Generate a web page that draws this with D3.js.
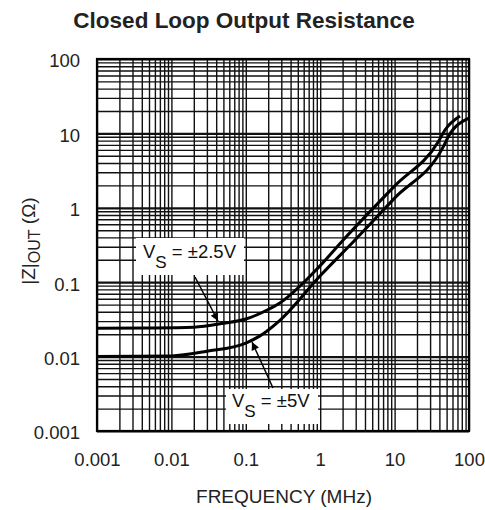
<!DOCTYPE html>
<html>
<head>
<meta charset="utf-8">
<script src="https://cdn.jsdelivr.net/npm/d3@7"></script>
<style>
  body { margin: 0; background: #fff; }
  svg { display: block; font-family: "Liberation Sans", Arial, Helvetica, sans-serif; }
  .tick text { fill: #222; }
</style>
</head>
<body>
<svg class="chart"></svg>
<script>
// frequency (MHz) and |Z|out (ohm)
var freq25 = [0.001, 0.005, 0.02, 0.05, 0.1, 0.2, 0.29, 1, 2.04, 10, 38.7, 47.6, 75.7];
var zout25 = [0.024, 0.0242, 0.0248, 0.028, 0.032, 0.043, 0.053, 0.167, 0.369, 1.96, 7.73, 11.1, 17.1];

var freq5 = [0.001, 0.01, 0.03, 0.1, 0.155, 0.29, 1, 2.94, 10, 45.2, 52.7, 97.9];
var zout5 = [0.01, 0.0102, 0.0118, 0.0152, 0.019, 0.031, 0.122, 0.369, 1.35, 6.63, 9.03, 15.96];

var xTicks = [0.001, 0.01, 0.1, 1, 10, 100];
var xTickLabels = ["0.001", "0.01", "0.1", "1", "10", "100"];
var yTicks = [0.001, 0.01, 0.1, 1, 10, 100];
var yTickLabels = ["0.001", "0.01", "0.1", "1", "10", "100"];

function show() {
    'use strict';

    var W = 485, H = 510;
    var margin = {top: 59, right: 16, bottom: 79, left: 97},
        width = W - margin.left - margin.right,
        height = H - margin.top - margin.bottom;

    var svg = d3.select(".chart").attr("width", W).attr("height", H);

    var x = d3.scaleLog().domain([0.001, 100]).range([margin.left, margin.left + width]);
    var y = d3.scaleLog().domain([0.001, 100]).range([margin.top + height, margin.top]);

    // grid values 1..9 per decade
    var grid = [];
    for (var d = -3; d <= 1; d++) {
        for (var k = 1; k <= 9; k++) grid.push(+(k * Math.pow(10, d)).toPrecision(3));
    }
    grid.push(100);

    var g = svg.append("g");

    // vertical grid
    g.append("g")
        .attr("transform", "translate(0," + (margin.top + height) + ")")
        .call(d3.axisBottom(x).tickValues(grid).tickSize(-height).tickFormat(""))
        .call(function (s) {
            s.select(".domain").remove();
            s.selectAll("line").attr("stroke", "#111").attr("stroke-width", 1.4);
        });

    // horizontal grid
    g.append("g")
        .attr("transform", "translate(" + margin.left + ",0)")
        .call(d3.axisLeft(y).tickValues(grid).tickSize(-width).tickFormat(""))
        .call(function (s) {
            s.select(".domain").remove();
            s.selectAll("line")
                .attr("stroke", "#111")
                .attr("stroke-width", function (v) { return yTicks.indexOf(v) >= 0 ? 2.2 : 1.4; });
        });

    // label boxes knock out the grid
    g.append("rect").attr("x", 136).attr("y", 238).attr("width", 108).attr("height", 37).attr("fill", "#fff");
    g.append("rect").attr("x", 226).attr("y", 389).attr("width", 92).attr("height", 35).attr("fill", "#fff");

    // frame
    g.append("rect")
        .attr("x", margin.left).attr("y", margin.top)
        .attr("width", width).attr("height", height)
        .attr("fill", "none").attr("stroke", "#000").attr("stroke-width", 2.2);

    // curves
    var line = d3.line()
        .x(function (p) { return x(p[0]); })
        .y(function (p) { return y(p[1]); })
        .curve(d3.curveMonotoneX);

    var s25 = freq25.map(function (f, i) { return [f, zout25[i]]; });
    var s5 = freq5.map(function (f, i) { return [f, zout5[i]]; });

    g.selectAll(".curve").data([s25, s5]).enter()
        .append("path")
        .attr("class", "curve")
        .attr("d", line)
        .attr("fill", "none")
        .attr("stroke", "#000")
        .attr("stroke-width", 3);

    // arrows
    svg.append("defs").append("marker")
        .attr("id", "arr")
        .attr("viewBox", "0 0 10 10")
        .attr("refX", 10).attr("refY", 5)
        .attr("markerWidth", 11).attr("markerHeight", 8)
        .attr("markerUnits", "userSpaceOnUse")
        .attr("orient", "auto")
        .append("path").attr("d", "M0,0L10,5L0,10Z").attr("fill", "#000");

    g.append("line").attr("x1", 195).attr("y1", 277).attr("x2", 218).attr("y2", 321)
        .attr("stroke", "#000").attr("stroke-width", 1.5).attr("marker-end", "url(#arr)");
    g.append("line").attr("x1", 273).attr("y1", 388).attr("x2", 252).attr("y2", 342)
        .attr("stroke", "#000").attr("stroke-width", 1.5).attr("marker-end", "url(#arr)");

    // annotation text
    function vsLabel(px, py, rest) {
        var t = g.append("text").attr("x", px).attr("y", py)
            .attr("font-size", 18.5).attr("fill", "#111");
        t.append("tspan").text("V");
        t.append("tspan").attr("dy", 10).attr("font-size", 17).text("S");
        t.append("tspan").attr("dy", -10).text(rest);
    }
    vsLabel(143, 258, " = \u00b12.5V");
    vsLabel(232, 407, " = \u00b15V");

    // axes labels
    var xa = g.append("g")
        .attr("transform", "translate(0," + (margin.top + height) + ")")
        .call(d3.axisBottom(x).tickValues(xTicks).tickSize(0).tickPadding(22)
            .tickFormat(function (v, i) { return xTickLabels[i]; }));
    xa.select(".domain").remove();
    xa.selectAll("text").attr("font-size", 18.5).attr("font-family", null);

    var ya = g.append("g")
        .attr("transform", "translate(" + margin.left + ",2)")
        .call(d3.axisLeft(y).tickValues(yTicks).tickSize(0).tickPadding(17)
            .tickFormat(function (v, i) { return yTickLabels[i]; }));
    ya.select(".domain").remove();
    ya.selectAll("text").attr("font-size", 18.5).attr("font-family", null);

    // title
    svg.append("text")
        .attr("x", 244).attr("y", 28)
        .attr("text-anchor", "middle")
        .attr("font-size", 22.5).attr("font-weight", "bold").attr("fill", "#222")
        .text("Closed Loop Output Resistance");

    svg.append("text")
        .attr("x", 284).attr("y", 503)
        .attr("text-anchor", "middle")
        .attr("font-size", 19).attr("fill", "#222")
        .text("FREQUENCY (MHz)");

    var yl = svg.append("text")
        .attr("transform", "translate(35," + 241 + ") rotate(-90)")
        .attr("text-anchor", "middle")
        .attr("font-size", 19).attr("fill", "#222");
    yl.append("tspan").text("|Z|");
    yl.append("tspan").attr("dy", 5).attr("font-size", 16).text("OUT");
    yl.append("tspan").attr("dy", -5).text(" (\u03a9)");
}
show();
</script>
</body>
</html>
